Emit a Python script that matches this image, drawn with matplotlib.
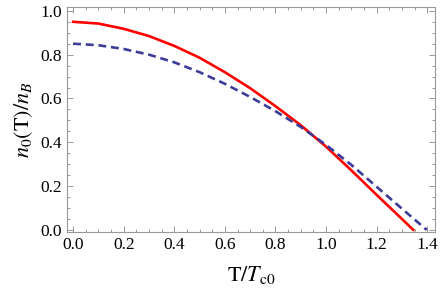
import matplotlib.pyplot as plt
import numpy as np
from matplotlib.ticker import MultipleLocator

plt.rcParams['font.family'] = ['Liberation Serif', 'DejaVu Serif']
plt.rcParams['mathtext.fontset'] = 'stix'

# T/Tc0 values
t_red = [0.0, 0.1, 0.2, 0.3, 0.4, 0.5, 0.6, 0.7, 0.8, 0.9, 1.0, 1.1, 1.2, 1.3, 1.345]
n_red = [0.950, 0.942, 0.918, 0.885, 0.840, 0.786, 0.720, 0.647, 0.565, 0.478, 0.380, 0.272, 0.160, 0.050, 0.0]

t_blue = [0.0, 0.1, 0.2, 0.3, 0.4, 0.5, 0.6, 0.7, 0.8, 0.9, 1.0, 1.1, 1.2, 1.3, 1.398]
n_blue = [0.850, 0.843, 0.826, 0.800, 0.765, 0.720, 0.667, 0.607, 0.542, 0.470, 0.388, 0.297, 0.197, 0.097, 0.0]

xticks = [0.0, 0.2, 0.4, 0.6, 0.8, 1.0, 1.2, 1.4]
yticks = [0.0, 0.2, 0.4, 0.6, 0.8, 1.0]

fig = plt.figure(figsize=(4.41, 3.0), dpi=100)
ax = fig.add_axes([0.152, 0.227, 0.834, 0.75])

ax.plot(t_red, n_red, color='#ff0000', lw=1.9)
ax.plot(t_blue, n_blue, color='#3c3c9a', lw=1.9, ls=(0, (3, 1.8)))

ax.set_xlim(-0.024, 1.43)
ax.set_ylim(-0.009, 1.018)
ax.set_xticks(xticks)
ax.set_yticks(yticks)
ax.set_xticklabels(['%.1f' % v for v in xticks])
ax.set_yticklabels(['%.1f' % v for v in yticks])
ax.xaxis.set_minor_locator(MultipleLocator(0.05))
ax.yaxis.set_minor_locator(MultipleLocator(0.05))

ax.tick_params(which='both', direction='in', top=True, right=True, color='#999999', labelsize=12.5, width=0.7)
ax.tick_params(which='major', length=4.5)
ax.tick_params(which='minor', length=2.5)
for s in ax.spines.values():
    s.set_color('#999999')
    s.set_linewidth(0.8)

ax.set_xlabel(r'$\mathrm{T}/T_{\mathrm{c0}}$', fontsize=16, labelpad=8)
ax.set_ylabel(r'$n_0(\mathrm{T})/n_B$', fontsize=16, labelpad=4)

fig.savefig('out.png', dpi=100)
